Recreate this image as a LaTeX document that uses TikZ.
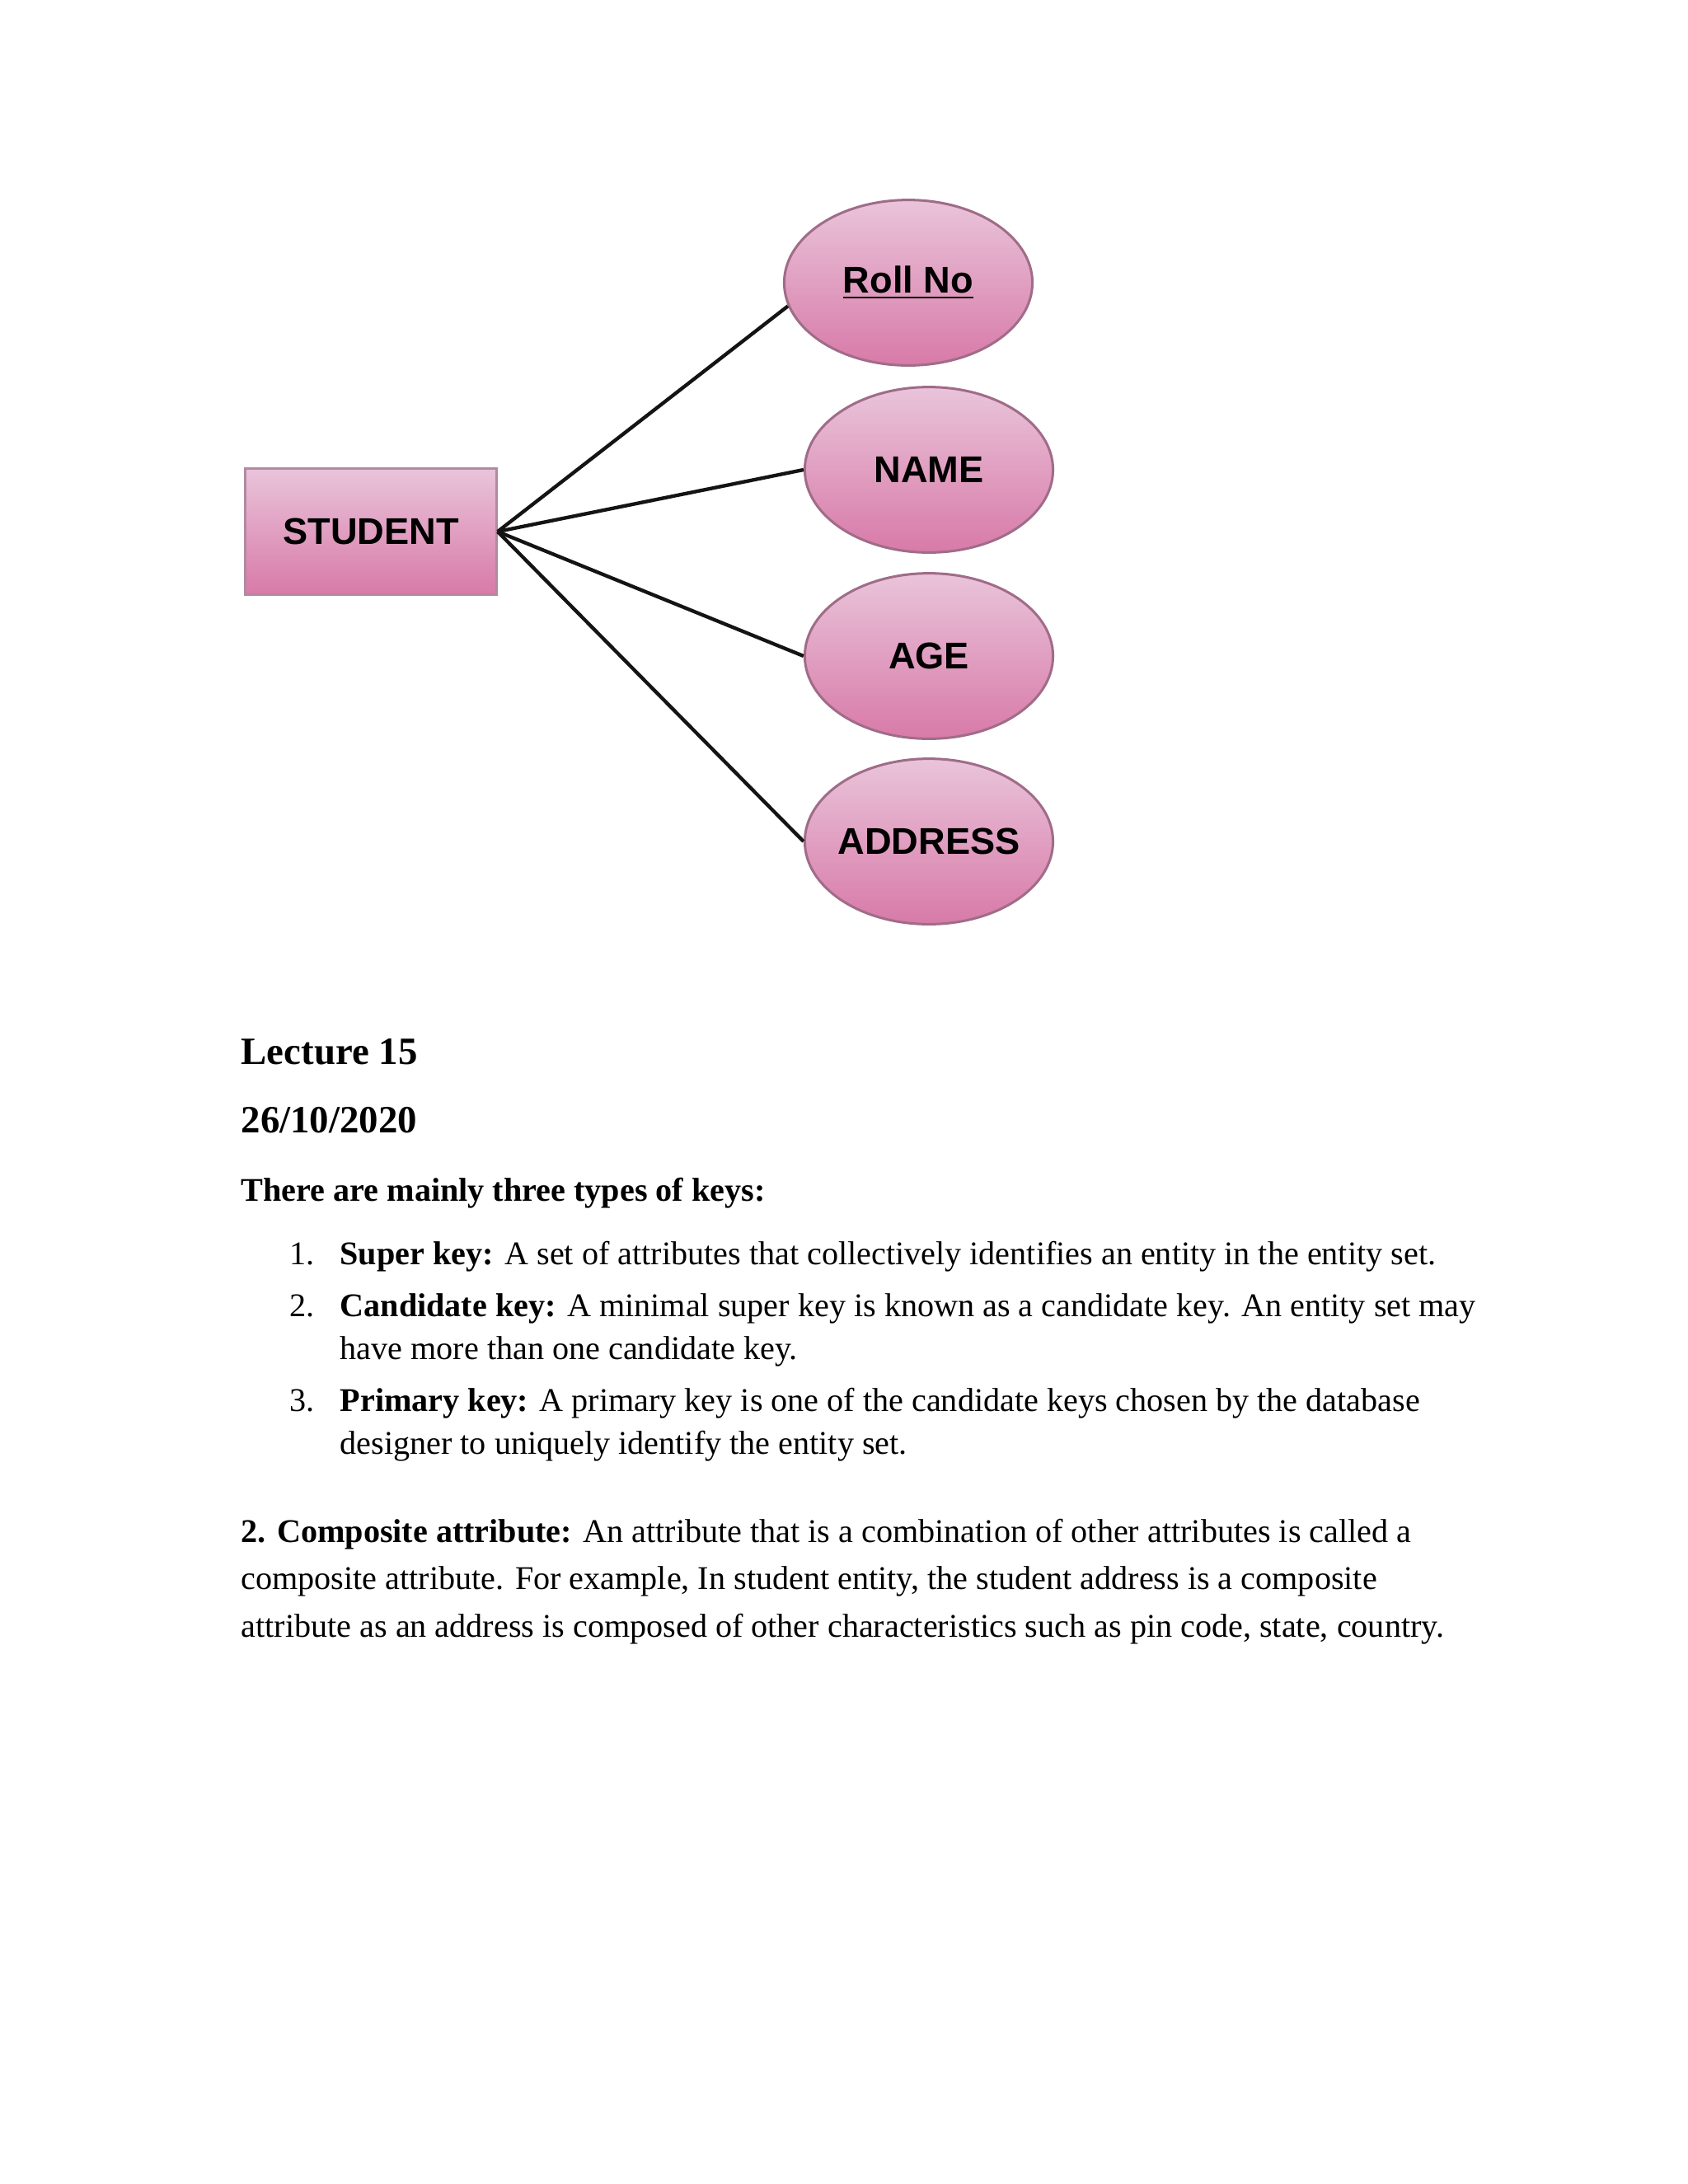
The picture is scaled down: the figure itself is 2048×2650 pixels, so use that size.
\documentclass[tikz,border=0pt]{standalone}
\usepackage{fontspec}
\usetikzlibrary{shapes.geometric}
\setmainfont{Liberation Serif}
\newfontfamily\arialfont{Liberation Sans}
\definecolor{pinktop}{HTML}{E9C4DA}
\definecolor{pinkbot}{HTML}{D87AA8}
\definecolor{pinkedge}{HTML}{A06C88}
\definecolor{linkcol}{HTML}{141414}
\begin{document}
\begin{tikzpicture}[x=0.29883pt,y=-0.29883pt,
  lblfont/.style={font=\arialfont\bfseries\fontsize{13.5}{15}\selectfont},
  attrib/.style={ellipse, draw=pinkedge, line width=0.9pt, top color=pinktop, bottom color=pinkbot,
    minimum width=90pt, minimum height=60pt, inner sep=0pt,
    label={[lblfont, inner sep=0pt]center:#1}},
  entity/.style={rectangle, draw=pinkedge!80, line width=0.9pt, top color=pinktop, bottom color=pinkbot,
    minimum width=91pt, minimum height=45.5pt, inner sep=0pt, lblfont},
  link/.style={draw=linkcol, line width=1.3pt},
  txt/.style={anchor=base west, inner sep=0pt, font=\fontsize{12}{14}\selectfont},
  head/.style={anchor=base west, inner sep=0pt, font=\bfseries\fontsize{14}{16}\selectfont}]
\useasboundingbox[fill=white] (0,0) rectangle (2048,2650);

% diagram
\node[entity] (student) at (450,645) {STUDENT};
\node[attrib={\underline{Roll No}}] (roll) at (1102,343) {};
\node[attrib=NAME] (name) at (1127,570) {};
\node[attrib=AGE] (age) at (1127,796) {};
\node[attrib=ADDRESS] (addr) at (1127,1021) {};
\coordinate (hub) at (student.east);
\draw[link] (hub) -- (roll.191);
\draw[link] (hub) -- (name.west);
\draw[link] (hub) -- (age.west);
\draw[link] (hub) -- (addr.west);

% text
\node[head] (t1) at (292,1291) {Lecture 15};
\node[head] (t2) at (292,1374) {26/10/2020};
\node[txt] (t3) at (292,1457) {\textbf{There are mainly three types of keys:}};
\node[txt] (n1) at (351,1534) {1.};
\node[txt] (i1) at (412,1534) {\textbf{Super key:} A set of attributes that collectively identifies an entity in the entity set.};
\node[txt] (n2) at (351,1597) {2.};
\node[txt] (i2) at (412,1597) {\textbf{Candidate key:} A minimal super key is known as a candidate key. An entity set may};
\node[txt] (i2b) at (412,1649) {have more than one candidate key.};
\node[txt] (n3) at (351,1712) {3.};
\node[txt] (i3) at (412,1712) {\textbf{Primary key:} A primary key is one of the candidate keys chosen by the database};
\node[txt] (i3b) at (412,1764) {designer to uniquely identify the entity set.};
\node[txt] (c1) at (292,1871) {\textbf{2. Composite attribute:} An attribute that is a combination of other attributes is called a};
\node[txt] (c2) at (292,1928) {composite attribute. For example, In student entity, the student address is a composite};
\node[txt] (c3) at (292,1986) {attribute as an address is composed of other characteristics such as pin code, state, country.};
\end{tikzpicture}
\end{document}
